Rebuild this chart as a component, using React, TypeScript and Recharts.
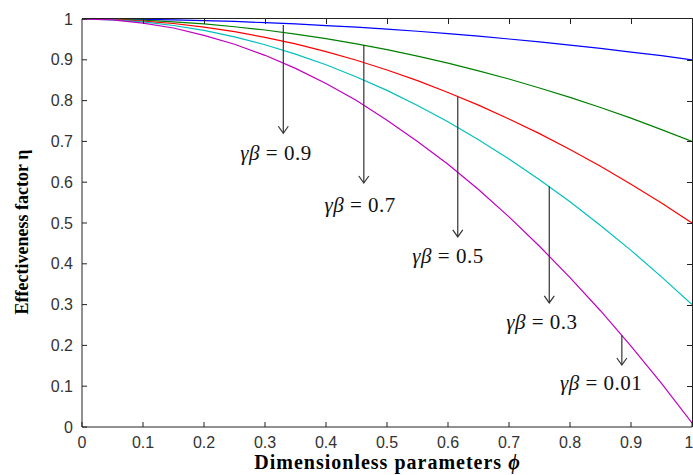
import React from 'react';
import { LineChart, Line, XAxis, YAxis, ReferenceLine, ReferenceDot } from 'recharts';

const phi = [0, 0.05, 0.1, 0.15, 0.2, 0.25, 0.3, 0.35, 0.4, 0.45, 0.5, 0.55, 0.6, 0.65, 0.7, 0.75, 0.8, 0.85, 0.9, 0.95, 1];
const etaBlue = [1, 1, 0.999, 0.998, 0.996, 0.994, 0.991, 0.988, 0.984, 0.98, 0.975, 0.97, 0.964, 0.958, 0.951, 0.944, 0.936, 0.928, 0.919, 0.91, 0.9];
const etaGreen = [1, 0.999, 0.997, 0.993, 0.988, 0.981, 0.973, 0.963, 0.952, 0.939, 0.925, 0.909, 0.892, 0.873, 0.853, 0.831, 0.808, 0.783, 0.757, 0.729, 0.7];
const etaRed = [1, 0.999, 0.995, 0.989, 0.98, 0.969, 0.955, 0.939, 0.92, 0.899, 0.875, 0.849, 0.82, 0.789, 0.755, 0.719, 0.68, 0.639, 0.595, 0.549, 0.5];
const etaCyan = [1, 0.998, 0.993, 0.984, 0.972, 0.956, 0.937, 0.914, 0.888, 0.858, 0.825, 0.788, 0.748, 0.704, 0.657, 0.606, 0.552, 0.494, 0.433, 0.368, 0.3];
const etaMagenta = [1, 0.998, 0.99, 0.978, 0.96, 0.938, 0.911, 0.879, 0.842, 0.8, 0.752, 0.7, 0.644, 0.582, 0.515, 0.443, 0.366, 0.285, 0.198, 0.107, 0.01];

const ticks = [0, 0.1, 0.2, 0.3, 0.4, 0.5, 0.6, 0.7, 0.8, 0.9, 1];

// annotation arrows: phi position, start eta, end eta, label text
const arrowPhi = [0.33, 0.462, 0.616, 0.766, 0.885];
const arrowFrom = [0.985, 0.936, 0.81, 0.59, 0.225];
const arrowTo = [0.72, 0.598, 0.466, 0.304, 0.152];
const labelText = ['0.9', '0.7', '0.5', '0.3', '0.01'];
const labelPhi = [0.318, 0.456, 0.6, 0.754, 0.851];
const labelEta = [0.654, 0.527, 0.402, 0.24, 0.091];

const data = phi.map((p, i) => ({
  phi: p,
  blue: etaBlue[i],
  green: etaGreen[i],
  red: etaRed[i],
  cyan: etaCyan[i],
  magenta: etaMagenta[i],
}));

const W = 693;
const H = 475;
const M = { top: 19, right: 1, left: 82, bottom: 48 };
const tickStyle = { fill: '#333', fontSize: 16, fontFamily: 'Liberation Sans, Arial, sans-serif' };
const axisColor = '#222';
const serif = 'Liberation Serif, Times New Roman, serif';

const Arrow = (props: any) => {
  const { x1, y1, x2, y2 } = props;
  return (
    <g>
      <line x1={x1} y1={y1} x2={x2} y2={y2} stroke="#333" strokeWidth={1.2} />
      <polyline points={`${x2 - 5},${y2 - 7} ${x2},${y2} ${x2 + 5},${y2 - 7}`} fill="none" stroke="#333" strokeWidth={1.2} />
    </g>
  );
};

const makeLabel = (txt: string) => (props: any) => (
  <text x={props.cx} y={props.cy} textAnchor="middle" fontFamily={serif} fontSize={21} fill="#111" letterSpacing={0.5}>
    <tspan fontStyle="italic">γβ</tspan>
    <tspan>{` = ${txt}`}</tspan>
  </text>
);

export default function App() {
  const inner = ticks.slice(1, -1);
  return (
    <div style={{ position: 'absolute', left: 0, top: 0, width: W, height: H, background: '#fff' }}>
      <LineChart width={W} height={H} data={data} margin={{ top: M.top, right: M.right, left: 0, bottom: 0 }}>
        <XAxis
          dataKey="phi"
          type="number"
          domain={[0, 1]}
          ticks={ticks}
          height={M.bottom}
          tick={tickStyle}
          tickSize={-5}
          tickMargin={15}
          stroke={axisColor}
          allowDataOverflow
        />
        <YAxis
          type="number"
          domain={[0, 1]}
          ticks={ticks}
          width={M.left}
          tick={tickStyle}
          tickSize={-5}
          tickMargin={14}
          stroke={axisColor}
        />
        <Line dataKey="blue" stroke="#0000ff" strokeWidth={1.2} dot={false} isAnimationActive={false} />
        <Line dataKey="green" stroke="#008000" strokeWidth={1.2} dot={false} isAnimationActive={false} />
        <Line dataKey="red" stroke="#ff0000" strokeWidth={1.2} dot={false} isAnimationActive={false} />
        <Line dataKey="cyan" stroke="#00bfbf" strokeWidth={1.2} dot={false} isAnimationActive={false} />
        <Line dataKey="magenta" stroke="#bf00bf" strokeWidth={1.2} dot={false} isAnimationActive={false} />
        {arrowPhi.map((p, i) => (
          <ReferenceLine
            key={`arrow-${i}`}
            segment={[{ x: p, y: arrowFrom[i] }, { x: p, y: arrowTo[i] }]}
            shape={Arrow}
          />
        ))}
        {labelText.map((t, i) => (
          <ReferenceDot key={`lab-${i}`} x={labelPhi[i]} y={labelEta[i]} r={0} shape={makeLabel(t)} />
        ))}
      </LineChart>
      {/* top and right frame of the box, with inward ticks */}
      <div
        style={{
          position: 'absolute', left: M.left, top: M.top - 1, width: W - M.left - M.right + 1, height: H - M.top - M.bottom + 1,
          borderTop: `1px solid ${axisColor}`, borderRight: `1px solid ${axisColor}`, boxSizing: 'border-box',
          pointerEvents: 'none', zIndex: 5,
        }}
      >
        {inner.map((t) => (
          <div key={`tt-${t}`} style={{ position: 'absolute', left: `${t * 100}%`, top: 0, width: 1, height: 5, background: axisColor }} />
        ))}
        {inner.map((t) => (
          <div key={`rt-${t}`} style={{ position: 'absolute', right: 0, top: `${(1 - t) * 100}%`, width: 5, height: 1, background: axisColor }} />
        ))}
      </div>
      <div
        style={{
          position: 'absolute', left: 0, top: 452, width: W, paddingLeft: M.left, boxSizing: 'border-box', lineHeight: 1,
          textAlign: 'center', fontFamily: serif, fontWeight: 'bold', fontSize: 20, letterSpacing: 1,
        }}
      >
        Dimensionless parameters <i>ϕ</i>
      </div>
      <div
        style={{
          position: 'absolute', left: 22, top: 232, transform: 'translate(-50%, -50%) rotate(-90deg)', whiteSpace: 'nowrap',
          lineHeight: 1, fontFamily: serif, fontWeight: 'bold', fontSize: 18,
        }}
      >
        Effectiveness factor η
      </div>
    </div>
  );
}
